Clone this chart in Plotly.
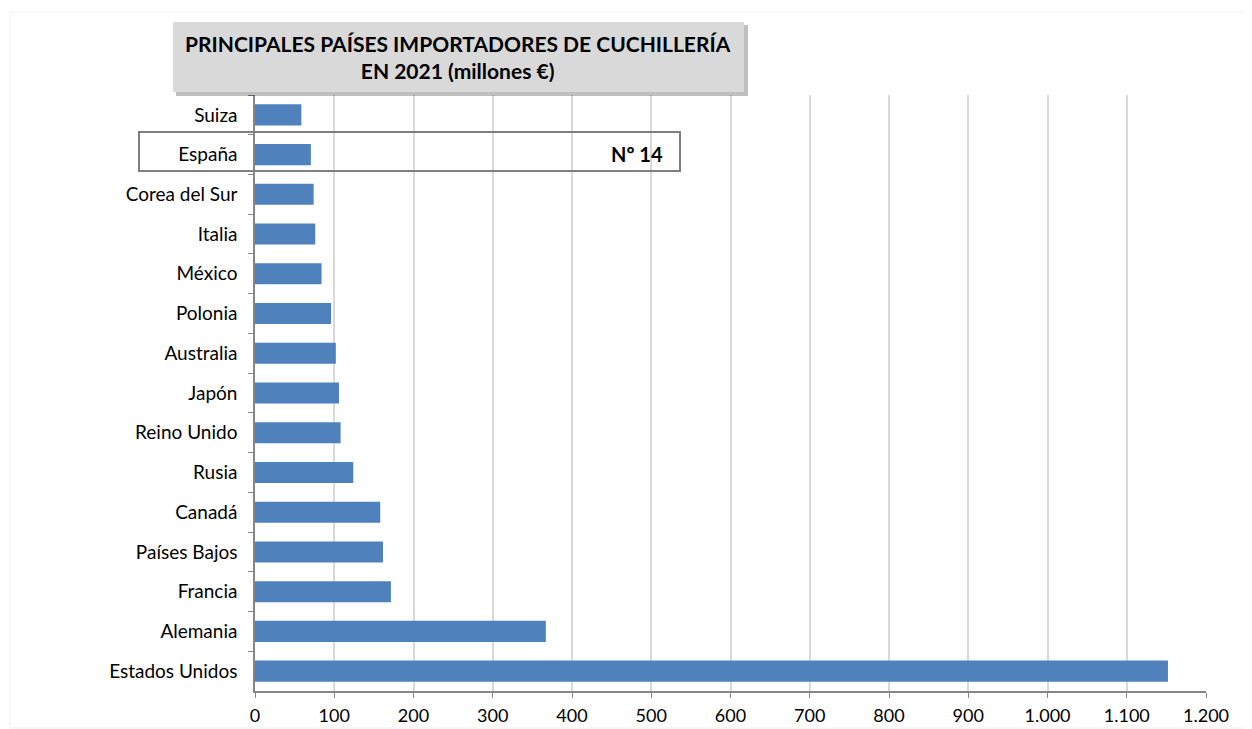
import plotly.graph_objects as go

countries = ["Suiza", "España", "Corea del Sur", "Italia", "México", "Polonia",
             "Australia", "Japón", "Reino Unido", "Rusia", "Canadá", "Países Bajos",
             "Francia", "Alemania", "Estados Unidos"]
values = [58.5, 70.5, 74, 76, 84, 96, 102, 106, 108, 124, 158, 161.5, 171.5, 367, 1152]
tick_vals = [0, 100, 200, 300, 400, 500, 600, 700, 800, 900, 1000, 1100, 1200]
tick_text = ["0", "100", "200", "300", "400", "500", "600", "700", "800", "900",
             "1.000", "1.100", "1.200"]
title_text = "PRINCIPALES PAÍSES IMPORTADORES DE CUCHILLERÍA<br>EN 2021 (millones €)"
rank_text = "Nº 14"

FONT = "Lato, Carlito, Calibri, sans-serif"
OFF = 8  # page body margin
PAGE_W, PAGE_H = 1252, 729
W, H = PAGE_W - OFF, PAGE_H - OFF
# plot area in page pixels
PL, PR, PT, PB = 255, 1206, 95, 691
L, R, T, B = PL - OFF, PAGE_W - PR, PT - OFF, PAGE_H - PB
PW, PH = PR - PL, PB - PT

def px(x):
    return (x - PL) / PW

def py(y):
    return (PB - y) / PH

fig = go.Figure(go.Bar(
    x=values, y=countries, orientation="h",
    marker=dict(color="#4f81bd", line=dict(width=0)),
    width=0.53,
))

fig.update_layout(
    width=W, height=H,
    margin=dict(l=L, r=R, t=T, b=B),
    paper_bgcolor="white", plot_bgcolor="white",
    font=dict(family=FONT, size=19, color="#000000"),
    showlegend=False,
    xaxis=dict(range=[0, 1200], tickvals=tick_vals, ticktext=tick_text,
               showgrid=True, gridcolor="#d9d9d9", gridwidth=1.5,
               showline=True, linecolor="#868686", linewidth=1.5,
               ticks="outside", ticklen=5, tickcolor="#868686",
               ticklabelstandoff=3, zeroline=False, automargin=False,
               tickfont=dict(size=18)),
    yaxis=dict(autorange="reversed", showgrid=False,
               showline=True, linecolor="#868686", linewidth=1.5,
               ticks="outside", ticklen=5, tickcolor="#868686",
               tickson="boundaries", ticklabelstandoff=12, automargin=False,
               tickfont=dict(size=19)),
)

shapes = [
    # faint outer border
    dict(type="rect", xref="paper", yref="paper", x0=px(10), x1=px(1251), y0=py(12), y1=py(728),
         line=dict(color="#f0f0f0", width=1), fillcolor="rgba(0,0,0,0)", layer="below"),
    # title shadow
    dict(type="rect", xref="paper", yref="paper", x0=px(176), x1=px(748), y0=py(25), y1=py(96),
         line=dict(width=0), fillcolor="rgba(0,0,0,0.25)", layer="above"),
    # title box
    dict(type="rect", xref="paper", yref="paper", x0=px(173), x1=px(744), y0=py(22), y1=py(92),
         line=dict(width=0), fillcolor="#d9d9d9", layer="above"),
    # Spain highlight box
    dict(type="rect", xref="paper", yref="paper", x0=px(139), x1=px(680), y0=py(132), y1=py(171),
         line=dict(color="#7f7f7f", width=2), fillcolor="rgba(0,0,0,0)", layer="above"),
]
fig.update_layout(shapes=shapes)

fig.add_annotation(text="<b>" + title_text.replace("<br>", "</b><br><b>") + "</b>",
                   xref="paper", yref="paper", x=px(458), y=py(57),
                   xanchor="center", yanchor="middle", showarrow=False,
                   font=dict(family=FONT, size=21, color="#000000"),
                   align="center")
fig.add_annotation(text="<b>" + rank_text + "</b>",
                   xref="paper", yref="paper", x=px(665), y=py(154),
                   xanchor="right", yanchor="middle", showarrow=False,
                   font=dict(family=FONT, size=20, color="#000000"))

fig.write_html("out.html")
